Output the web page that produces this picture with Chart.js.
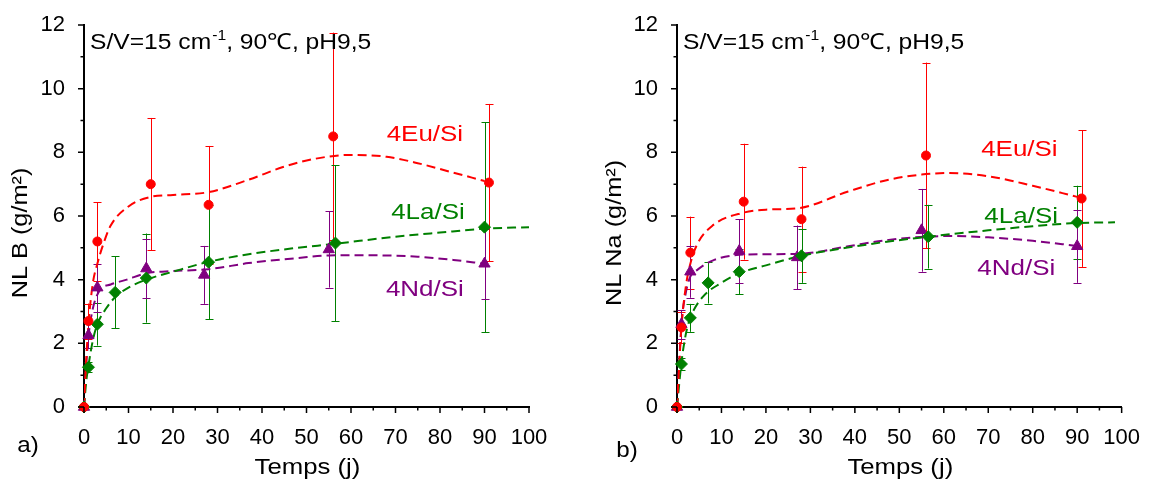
<!DOCTYPE html>
<html><head><meta charset="utf-8">
<script src="https://cdn.jsdelivr.net/npm/chart.js@4"></script>
<style>
html,body{margin:0;padding:0;background:#fff;}
#wrap{position:relative;width:1150px;height:483px;overflow:hidden;}
.c{position:absolute;top:0;width:575px;height:483px;}
</style></head><body>
<div id="wrap"><div class="c" style="left:0"><canvas id="ca" width="575" height="483"></canvas></div><div class="c" style="left:575px"><canvas id="cb" width="575" height="483"></canvas></div></div>
<script>
// ---------- Data: panel a) NL B ----------
const euDaysA = [0, 1, 3, 15, 28, 56, 91];
const euNLB   = [0, 2.7, 5.2, 7.0, 6.35, 8.5, 7.05];
const euErrB  = [0, 0.55, 1.23, 2.08, 1.85, 3.26, 2.47];
const laDaysA = [0, 1, 3, 7, 14, 28, 56.5, 90];
const laNLB   = [0, 1.25, 2.6, 3.6, 4.05, 4.55, 5.15, 5.65];
const laErrB  = [0, 0.15, 0.67, 1.13, 1.4, 1.8, 2.45, 3.3];
const ndDaysA = [0, 1, 3, 14, 27, 55, 90];
const ndNLB   = [0, 2.25, 3.75, 4.35, 4.15, 4.95, 4.5];
const ndErrB  = [0, 0.4, 0.75, 0.93, 0.91, 1.2, 1.1];
// fitted (dashed) curves, panel a)
const euFitXA = [0, 0.5, 1, 2, 3, 4.3, 6, 10, 15, 20, 28, 37, 45, 52, 60, 68, 75, 82, 90];
const euFitB  = [0, 1.5, 2.6, 3.9, 4.5, 5.1, 5.7, 6.3, 6.6, 6.66, 6.75, 7.14, 7.55, 7.8, 7.92, 7.86, 7.66, 7.4, 7.1];
const laFitXA = [0, 0.5, 1, 2, 3, 5, 7, 10, 14, 20, 28, 37, 48, 56, 70, 80, 90, 100];
const laFitB  = [0, 0.8, 1.3, 2.1, 2.6, 3.1, 3.45, 3.75, 4.0, 4.25, 4.56, 4.8, 5.0, 5.12, 5.35, 5.48, 5.6, 5.65];
const ndFitXA = [0, 0.5, 1, 2, 3.6, 6, 9.6, 14, 20, 28, 37, 48, 55, 62, 75, 83, 90];
const ndFitB  = [0, 1.3, 2.2, 3.1, 3.68, 3.85, 4.0, 4.2, 4.27, 4.33, 4.52, 4.68, 4.76, 4.77, 4.72, 4.62, 4.5];

// ---------- Data: panel b) NL Na ----------
const euDaysB = [0, 1, 3, 15, 28, 56, 91];
const euNLNa  = [0, 2.5, 4.85, 6.45, 5.9, 7.9, 6.55];
const euErrNa = [0, 0.5, 1.13, 1.82, 1.65, 2.92, 2.15];
const laDaysB = [0, 1, 3, 7, 14, 28, 56.5, 90];
const laNLNa  = [0, 1.35, 2.8, 3.9, 4.25, 4.75, 5.35, 5.8];
const laErrNa = [0, 0.2, 0.44, 0.65, 0.7, 0.85, 1.0, 1.15];
const ndDaysB = [0, 1, 3, 14, 27, 55, 90];
const ndNLNa  = [0, 2.6, 4.25, 4.9, 4.7, 5.55, 5.05];
const ndErrNa = [0, 0.45, 0.82, 1.0, 1.0, 1.3, 1.15];
const euFitXB = [0, 1, 2, 3, 4.5, 8, 14.8, 20, 27.5, 38.5, 47.6, 55, 61, 70, 80, 90];
const euFitNa = [0, 2.5, 3.8, 4.5, 5.1, 5.7, 6.1, 6.2, 6.25, 6.77, 7.14, 7.3, 7.35, 7.25, 6.95, 6.6];
const laFitXB = [0, 1, 2, 3, 5.8, 10, 14, 20, 28, 38, 47.6, 56.6, 70, 80, 90, 98.5];
const laFitNa = [0, 1.4, 2.3, 2.8, 3.46, 3.9, 4.2, 4.45, 4.75, 5.0, 5.2, 5.35, 5.55, 5.68, 5.78, 5.8];
const ndFitXB = [0, 1, 2, 3, 4.5, 8, 14, 20, 27.5, 38.5, 47.6, 56, 62, 70, 80, 90];
const ndFitNa = [0, 2.6, 3.6, 4.1, 4.3, 4.6, 4.78, 4.8, 4.81, 5.05, 5.25, 5.35, 5.37, 5.33, 5.22, 5.06];

// tick labels / text
const xTicks = [0, 10, 20, 30, 40, 50, 60, 70, 80, 90, 100];
const yTicks = [0, 2, 4, 6, 8, 10, 12];
const seriesNames = ['4Eu/Si', '4La/Si', '4Nd/Si'];

const RED = '#ff0000', GREEN = '#008000', PURPLE = '#800080';
const FONT = '"Liberation Sans", Arial, sans-serif';
const FS = 22;

function pts(xs, ys) { return xs.map((x, i) => ({x: x, y: ys[i]})); }
function sText(ctx, t, x, y, sx) {
  ctx.save(); ctx.translate(x, y); ctx.scale(sx, 1); ctx.fillText(t, 0, 0); ctx.restore();
}

function makeChart(id, o) {
  const sets = [
    {label: seriesNames[0], data: pts(o.eu[0], o.eu[1]), err: o.eu[2], color: RED, style: 'circle', r: 4.5},
    {label: seriesNames[1], data: pts(o.la[0], o.la[1]), err: o.la[2], color: GREEN, style: 'rectRot', r: 6},
    {label: seriesNames[2], data: pts(o.nd[0], o.nd[1]), err: o.nd[2], color: PURPLE, style: 'triangle', r: 6.5}
  ];
  const datasets = [];
  sets.forEach(s => datasets.push({
    label: s.label, data: s.data, err: s.err, showLine: false,
    pointStyle: s.style, pointRadius: s.r, pointBackgroundColor: s.color,
    pointBorderColor: s.color, pointBorderWidth: 1, clip: 8, isPts: true
  }));
  [[o.euFit, RED], [o.laFit, GREEN], [o.ndFit, PURPLE]].forEach(f => datasets.push({
    data: pts(f[0][0], f[0][1]), showLine: true, pointRadius: 0, borderColor: f[1],
    borderWidth: 2, borderDash: [9, 5], cubicInterpolationMode: 'monotone', fill: false
  }));

  const deco = {
    id: 'deco',
    beforeDatasetsDraw(chart) {
      const ctx = chart.ctx, xs = chart.scales.x, ys = chart.scales.y;
      ctx.save();
      chart.data.datasets.forEach(ds => {
        if (!ds.isPts) return;
        ctx.strokeStyle = ds.pointBackgroundColor; ctx.lineWidth = 1;
        ds.data.forEach((p, i) => {
          const e = ds.err[i]; if (!e) return;
          const px = Math.round(xs.getPixelForValue(p.x)) + 0.5;
          const t = ys.getPixelForValue(p.y + e), b = ys.getPixelForValue(p.y - e);
          ctx.beginPath();
          ctx.moveTo(px, t); ctx.lineTo(px, b);
          ctx.moveTo(px - 4, Math.round(t) + 0.5); ctx.lineTo(px + 4, Math.round(t) + 0.5);
          ctx.moveTo(px - 4, Math.round(b) + 0.5); ctx.lineTo(px + 4, Math.round(b) + 0.5);
          ctx.stroke();
        });
      });
      ctx.restore();
    },
    afterDraw(chart) {
      const ctx = chart.ctx, xs = chart.scales.x, ys = chart.scales.y, ca = chart.chartArea;
      ctx.save();
      // minor/major ticks
      ctx.strokeStyle = '#000'; ctx.lineWidth = 1.5;
      ctx.beginPath();
      for (let v = 0; v <= 100; v += 5) {
        const px = xs.getPixelForValue(v), len = v % 10 === 0 ? 6 : 3.5;
        ctx.moveTo(px, ca.bottom); ctx.lineTo(px, ca.bottom + len);
      }
      for (let v = 0; v <= 12; v += 1) {
        const py = ys.getPixelForValue(v), len = v % 2 === 0 ? 6 : 3.5;
        ctx.moveTo(ca.left, py); ctx.lineTo(ca.left - len, py);
      }
      ctx.stroke();
      // annotation
      const SX = 1.12;
      ctx.fillStyle = '#000'; ctx.textAlign = 'left'; ctx.textBaseline = 'alphabetic';
      ctx.font = FS + 'px ' + FONT;
      let x0 = ca.left + 6; const yb = ca.top + 24;
      const p1 = 'S/V=15 cm', p2 = '-1', p3 = ', 90\u2103, pH9,5';
      sText(ctx, p1, x0, yb, SX); x0 += ctx.measureText(p1).width * SX + 1;
      ctx.font = '14px ' + FONT; sText(ctx, p2, x0, yb - 9, SX); x0 += ctx.measureText(p2).width * SX;
      ctx.font = FS + 'px ' + FONT; sText(ctx, p3, x0, yb, SX);
      // series labels
      ctx.textAlign = 'center'; ctx.textBaseline = 'middle';
      o.labels.forEach((l, i) => {
        ctx.fillStyle = [RED, GREEN, PURPLE][i];
        sText(ctx, seriesNames[i], xs.getPixelForValue(l[0]), ys.getPixelForValue(l[1]), 1.18);
      });
      // axis titles
      ctx.fillStyle = '#000';
      sText(ctx, 'Temps (j)', (ca.left + ca.right) / 2 + 1, 468, 1.17);
      ctx.save(); ctx.translate(o.yTitleX, 233); ctx.rotate(-Math.PI / 2); ctx.scale(1.15, 1);
      ctx.fillText(o.yTitle, 0, 0); ctx.restore();
      sText(ctx, o.panel, o.panelPos[0], o.panelPos[1], 1.1);
      ctx.restore();
    }
  };

  return new Chart(document.getElementById(id), {
    type: 'scatter',
    data: {datasets: datasets},
    options: {
      responsive: false, animation: false, devicePixelRatio: 1,
      layout: {padding: {left: 0, top: 25, right: o.rightPad, bottom: 0}},
      plugins: {legend: {display: false}, tooltip: {enabled: false}},
      scales: {
        x: {
          type: 'linear', min: 0, max: 100,
          afterBuildTicks: s => { s.ticks = xTicks.map(v => ({value: v})); },
          ticks: {color: '#000', font: {family: FONT, size: FS}, padding: 10, maxRotation: 0, autoSkip: false},
          grid: {display: false},
          border: {display: true, color: '#000', width: 2},
          afterFit: s => { s.height = 76; }
        },
        y: {
          type: 'linear', min: 0, max: 12,
          afterBuildTicks: s => { s.ticks = yTicks.map(v => ({value: v})); },
          ticks: {color: '#000', font: {family: FONT, size: FS}, padding: 11},
          grid: {display: false},
          border: {display: true, color: '#000', width: 2},
          afterFit: s => { s.width = o.axisW; }
        }
      }
    },
    plugins: [deco]
  });
}

makeChart('ca', {
  eu: [euDaysA, euNLB, euErrB], la: [laDaysA, laNLB, laErrB], nd: [ndDaysA, ndNLB, ndErrB],
  euFit: [euFitXA, euFitB], laFit: [laFitXA, laFitB], ndFit: [ndFitXA, ndFitB],
  axisW: 84, rightPad: 46, yTitle: 'NL B (g/m\u00b2)', yTitleX: 21,
  panel: 'a)', panelPos: [28, 446],
  labels: [[76.6, 8.55], [77.3, 6.1], [76.6, 3.68]]
});
makeChart('cb', {
  eu: [euDaysB, euNLNa, euErrNa], la: [laDaysB, laNLNa, laErrNa], nd: [ndDaysB, ndNLNa, ndErrNa],
  euFit: [euFitXB, euFitNa], laFit: [laFitXB, laFitNa], ndFit: [ndFitXB, ndFitNa],
  axisW: 102, rightPad: 26, yTitle: 'NL Na (g/m\u00b2)', yTitleX: 40,
  panel: 'b)', panelPos: [52, 451],
  labels: [[77, 8.08], [77.4, 5.97], [76.3, 4.34]]
});
</script>
</body></html>
